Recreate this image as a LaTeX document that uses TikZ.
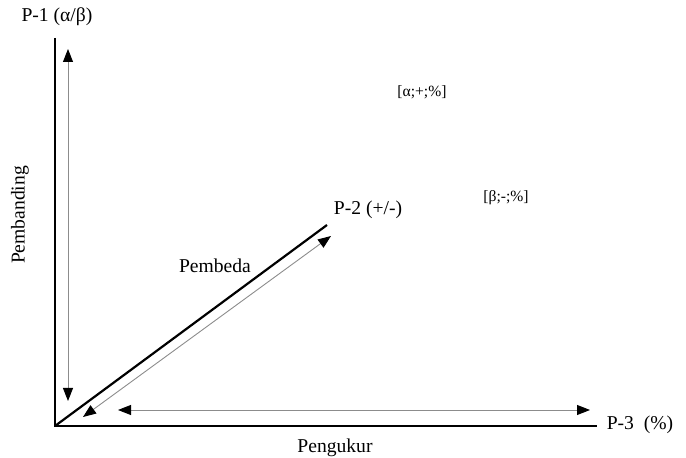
\documentclass[tikz,border=0pt]{standalone}
\usepackage{fontspec}
\setmainfont{Liberation Serif}
\usetikzlibrary{positioning,arrows.meta}
\definecolor{axis}{HTML}{000000}
\definecolor{guide}{HTML}{8C8C8C}
\tikzset{
  ax/.style={draw=axis,line width=1.1pt},
  gd/.style={draw=guide,line width=0.45pt,
    {Triangle[length=6.5pt,width=5pt,color=black]}-{Triangle[length=6.5pt,width=5pt,color=black]}},
  lbl/.style={inner sep=0pt,font=\fontsize{9.8}{11}\selectfont},
  tag/.style={inner sep=0pt,font=\fontsize{7.8}{9}\selectfont},
}
\begin{document}
\begin{tikzpicture}[x=0.5pt,y=-0.5pt]
  \useasboundingbox (0,0) rectangle (686,458);
  % axes
  \coordinate (o) at (55,426);
  \coordinate (ytop) at (55,38);
  \coordinate (xend) at (597,426);
  \coordinate (dend) at (327,225);
  \draw[ax] (ytop)--(o)--(xend);
  \draw[ax] (o)--(dend);
  % guide arrows
  \coordinate (vt) at (68,49);
  \coordinate (vb) at (68,401);
  \coordinate (hl) at (118,410);
  \coordinate (hr) at (590,410);
  \coordinate (dl) at (83,417);
  \coordinate (dr) at (331,236);
  \draw[gd] (vb)--(vt);
  \draw[gd] (hl)--(hr);
  \draw[gd] (dl)--(dr);
  % labels
  \node[lbl] (p1) at (57,17) {P-1 (α/β)};
  \node[lbl,rotate=90] (pbd) at (20,215) {Pembanding};
  \node[lbl] (pbe) at (215,266) {Pembeda};
  \node[lbl] (p2) at (368,210) {P-2 (+/-)};
  \node[lbl] (p3) at (640,425) {P-3~~(\%)};
  \node[lbl] (pgk) at (335,448) {Pengukur};
  \node[tag] (ta) at (422,92) {[α;+;\%]};
  \node[tag] (tb) at (506,198) {[β;-;\%]};
\end{tikzpicture}
\end{document}
